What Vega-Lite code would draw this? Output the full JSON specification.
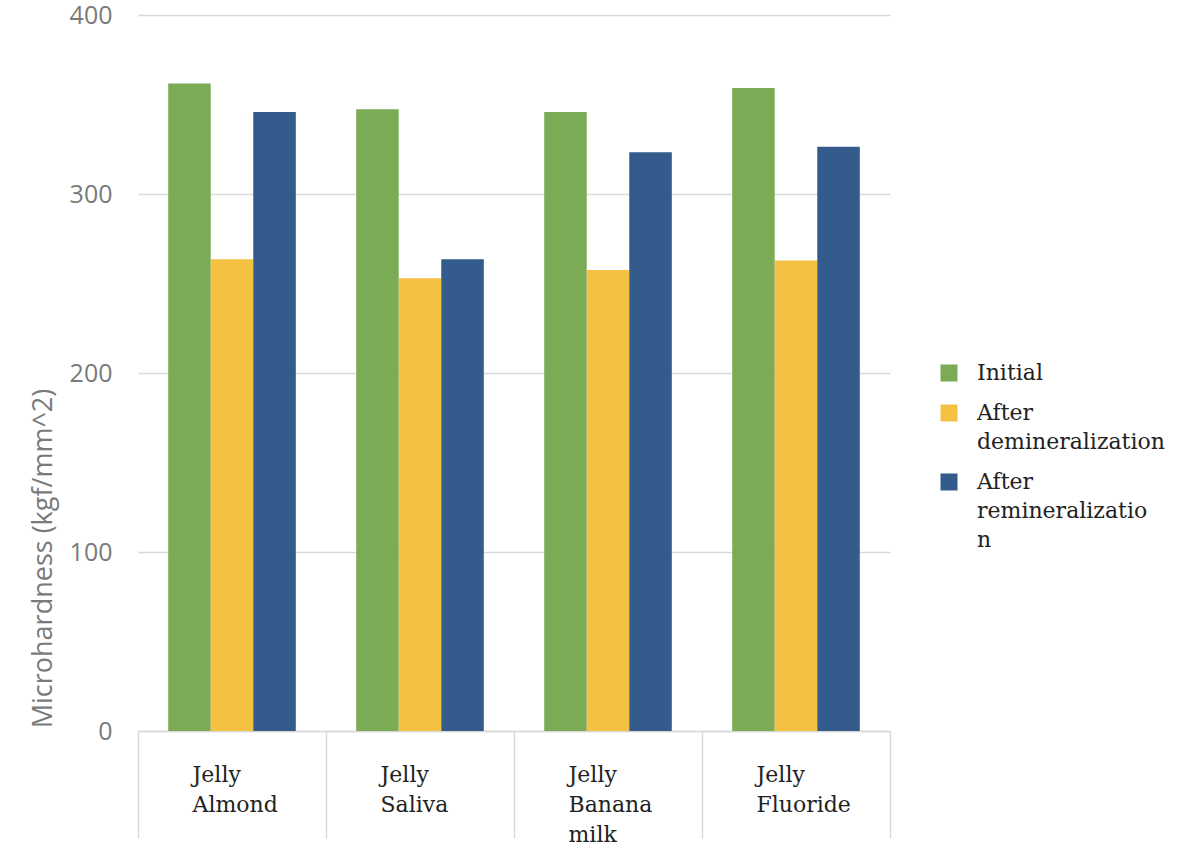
{
  "$schema": "https://vega.github.io/schema/vega-lite/v6.json",
  "width": 752,
  "height": 716,
  "autosize": {"type": "none"},
  "padding": {"left": 138, "top": 15, "right": 287, "bottom": 116},
  "background": "white",
  "config": {"view": {"stroke": null}},
  "data": {
    "values": [
      {"group": "Jelly Almond", "stage": "Initial", "value": 361.8},
      {"group": "Jelly Almond", "stage": "After demineralization", "value": 263.5},
      {"group": "Jelly Almond", "stage": "After remineralization", "value": 345.8},
      {"group": "Jelly Saliva", "stage": "Initial", "value": 347.3},
      {"group": "Jelly Saliva", "stage": "After demineralization", "value": 252.9},
      {"group": "Jelly Saliva", "stage": "After remineralization", "value": 263.5},
      {"group": "Jelly Banana milk", "stage": "Initial", "value": 345.8},
      {"group": "Jelly Banana milk", "stage": "After demineralization", "value": 257.5},
      {"group": "Jelly Banana milk", "stage": "After remineralization", "value": 323.3},
      {"group": "Jelly Fluoride", "stage": "Initial", "value": 359.2},
      {"group": "Jelly Fluoride", "stage": "After demineralization", "value": 262.9},
      {"group": "Jelly Fluoride", "stage": "After remineralization", "value": 326.4}
    ]
  },
  "mark": {"type": "bar"},
  "encoding": {
    "x": {
      "field": "group",
      "type": "nominal",
      "sort": ["Jelly Almond", "Jelly Saliva", "Jelly Banana milk", "Jelly Fluoride"],
      "scale": {"paddingInner": 0, "paddingOuter": 0},
      "axis": {
        "title": null,
        "labelAngle": 0,
        "labelExpr": "split(datum.label, ' ')",
        "labelFont": "DejaVu Serif",
        "labelFontSize": 22,
        "labelColor": "#222222",
        "labelAlign": "left",
        "labelOffset": -40,
        "labelBaseline": "middle",
        "labelLineHeight": 30,
        "labelPadding": -64,
        "tickBand": "extent",
        "tickSize": 107,
        "tickColor": "#d9d9d9",
        "tickWidth": 1.5,
        "domainColor": "#d9d9d9",
        "domainWidth": 1.5,
        "grid": false
      }
    },
    "xOffset": {
      "field": "stage",
      "type": "nominal",
      "sort": ["Initial", "After demineralization", "After remineralization"],
      "scale": {"paddingInner": 0, "paddingOuter": 0.71}
    },
    "y": {
      "field": "value",
      "type": "quantitative",
      "scale": {"domain": [0, 400], "nice": false},
      "axis": {
        "values": [0, 100, 200, 300, 400],
        "title": "Microhardness (kgf/mm^2)",
        "titleFont": "Open Sans",
        "titleFontSize": 27,
        "titleFontWeight": "normal",
        "titleColor": "#7a7a7a",
        "titleX": -95,
        "titleY": 543,
        "titleAngle": 270,
        "titleAlign": "center",
        "titleBaseline": "middle",
        "labelFont": "Open Sans",
        "labelFontSize": 25,
        "labelColor": "#7a7a7a",
        "labelPadding": 26,
        "domain": false,
        "ticks": false,
        "grid": true,
        "gridColor": "#d9d9d9",
        "gridWidth": 1.5
      }
    },
    "color": {
      "field": "stage",
      "type": "nominal",
      "sort": ["Initial", "After demineralization", "After remineralization"],
      "scale": {
        "domain": ["Initial", "After demineralization", "After remineralization"],
        "range": ["#7cab56", "#f4c142", "#335b8c"]
      },
      "legend": {
        "title": null,
        "orient": "none",
        "legendX": 800,
        "legendY": 347,
        "symbolType": "square",
        "symbolSize": 289,
        "symbolStrokeWidth": 0,
        "labelFont": "DejaVu Serif",
        "labelFontSize": 22,
        "labelColor": "#222222",
        "labelLimit": 0,
        "labelOffset": 17,
        "labelExpr": "datum.label == 'Initial' ? 'Initial' : datum.label == 'After demineralization' ? ['After', 'demineralization'] : ['After', 'remineralizatio', 'n']",
        "rowPadding": 18,
        "encode": {"labels": {"update": {"lineHeight": {"value": 29}}}}
      }
    }
  }
}
